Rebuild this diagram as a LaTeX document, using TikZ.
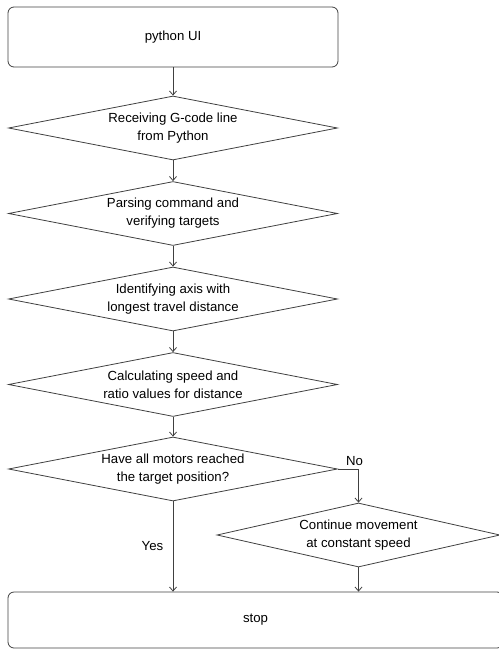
\documentclass[tikz,border=0pt]{standalone}
\usepackage{fontspec}
\setmainfont{Liberation Sans}
\usetikzlibrary{shapes.geometric,arrows.meta}
\begin{document}
\begin{tikzpicture}[x=1bp,y=-1bp,line cap=butt,line join=miter,>={Straight Barb[length=4bp,width=7bp]},
		font=\fontsize{13.2bp}{18bp}\selectfont]
		\tikzset{termbox/.style={draw=black!75,line width=0.8bp,rounded corners=6bp,inner sep=0pt},
			decbox/.style={draw=black!75,line width=0.8bp,diamond,aspect=5.1,inner sep=0pt,
				minimum width=329bp,minimum height=64bp,align=center},
			flow/.style={draw=black!75,line width=0.8bp,->}}
		\useasboundingbox (0,0) rectangle (499,650);
		\node[termbox,minimum width=330bp,minimum height=60bp] (ui) at (173,37) {python UI};
		\node[decbox] (recv) at (173,128) {Receiving G-code line\\from Python};
		\node[decbox] (parse) at (173,213.5) {Parsing command and\\verifying targets};
		\node[decbox] (axis) at (173,299) {Identifying axis with\\longest travel distance};
		\node[decbox] (calc) at (173,384.5) {Calculating speed and\\ratio values for distance};
		\node[decbox] (check) at (173,469) {Have all motors reached\\the target position?};
		\node[decbox,minimum width=283bp] (move) at (358.5,535) {Continue movement\\at constant speed};
		\node[termbox,minimum width=495bp,minimum height=56bp] (stop) at (255.5,620) {stop};
		%--------- connectors
		\draw[flow] (ui) -- (recv);
		\draw[flow] (recv) -- (parse);
		\draw[flow] (parse) -- (axis);
		\draw[flow] (axis) -- (calc);
		\draw[flow] (calc) -- (check);
		\draw[flow] (check.east) -| node[pos=0.5,above,xshift=-4bp] (no) {No} (move.north);
		\draw[flow] (check.south) -- node[midway,left,xshift=-6bp] (yes) {Yes} (check.south |- stop.north);
		\draw[flow] (move.south) -- (move.south |- stop.north);
	\end{tikzpicture}
\end{document}
